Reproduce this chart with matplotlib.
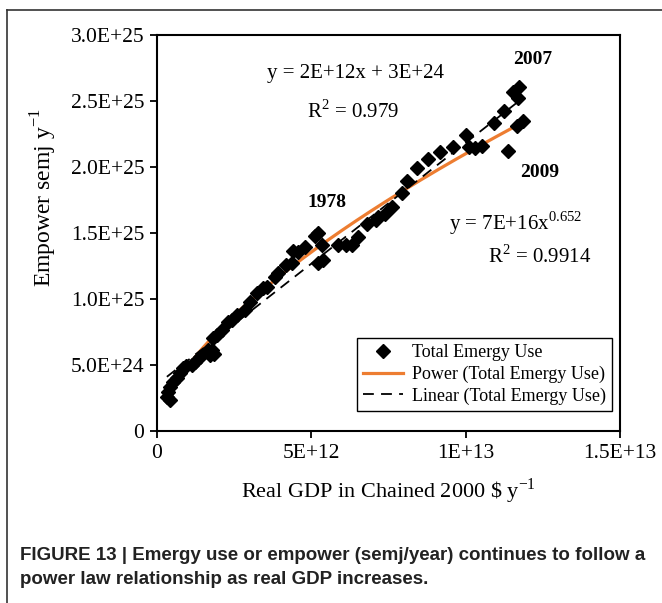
import numpy as np
import matplotlib.pyplot as plt
from matplotlib.lines import Line2D

plt.rcParams['font.family'] = ['Liberation Serif', 'DejaVu Serif']
plt.rcParams['mathtext.fontset'] = 'custom'
plt.rcParams['mathtext.rm'] = 'Liberation Serif'

# real GDP (1E+12 chained 2000 $ per year) and empower (1E+24 semj per year)
gdp = [0.32, 0.42, 0.36, 0.42, 0.52, 0.65, 0.75, 0.84, 0.94, 1.13, 1.23, 1.39,
       1.65, 1.78, 1.72, 1.85, 1.81, 1.94, 2.11, 2.30, 2.43, 2.59, 2.85, 3.01,
       3.24, 3.43, 3.56, 3.82, 3.92, 4.18, 4.37, 4.41, 4.57, 4.80, 5.12, 5.22,
       5.35, 5.22, 5.38, 5.86, 6.12, 6.32, 6.51, 6.80, 7.10, 7.16, 7.39, 7.61,
       7.94, 8.10, 8.42, 8.78, 9.17, 9.59, 10.01, 10.11, 10.30, 10.53, 10.92,
       11.24, 11.37, 11.66, 11.86, 11.53, 11.70, 11.73]
empower = [2.58, 2.35, 2.95, 3.33, 3.71, 4.02, 4.39, 4.77, 4.92, 5.00, 5.23, 5.60,
           6.14, 6.14, 5.76, 5.83, 7.05, 7.27, 7.65, 8.26, 8.41, 8.79, 9.17, 9.77,
           10.45, 10.83, 10.91, 11.67, 11.97, 12.58, 12.73, 13.64, 13.56, 13.94, 14.77, 15.00,
           14.09, 12.73, 12.95, 14.09, 14.09, 14.09, 14.70, 15.68, 15.98, 16.21, 16.44, 16.97,
           18.03, 18.94, 19.92, 20.61, 21.14, 21.52, 22.42, 21.52, 21.44, 21.59, 23.33,
           24.24, 21.21, 23.11, 23.48, 25.68, 25.23, 26.06]

x_ticks = [0, 5e12, 1e13, 1.5e13]
x_ticklabels = ['0', '5E+12', '1E+13', '1.5E+13']
y_ticks = [0, 5e24, 1e25, 1.5e25, 2e25, 2.5e25, 3e25]
y_ticklabels = ['0', '5.0E+24', '1.0E+25', '1.5E+25', '2.0E+25', '2.5E+25', '3.0E+25']

x = np.array(gdp) * 1e12
y = np.array(empower) * 1e24

# trendlines as Excel does them
b, log_a = np.polyfit(np.log(x), np.log(y), 1)
slope, icpt = np.polyfit(x, y, 1)
xs = np.linspace(x.min(), x.max(), 200)

fig = plt.figure(figsize=(6.62, 6.03), dpi=100)
ax = fig.add_axes([157/662, 1-431/603, 463/662, 396/603])

ax.plot(xs, np.exp(log_a) * xs**b, color='#ED7D31', lw=2.3, zorder=2,
        label='Power (Total Emergy Use)')
ax.plot(xs, slope*xs + icpt, color='black', lw=1.3, ls=(0, (6, 4)), zorder=2,
        label='Linear (Total Emergy Use)')
ax.plot(x, y, 'D', color='black', ms=7.5, zorder=3, label='Total Emergy Use')

ax.set_xlim(0, 1.5e13)
ax.set_ylim(0, 3e25)
ax.set_xticks(x_ticks)
ax.set_xticklabels(x_ticklabels)
ax.set_yticks(y_ticks)
ax.set_yticklabels(y_ticklabels)
ax.tick_params(labelsize=15.5, length=5, width=1.3, direction='out', pad=4)
for s in ax.spines.values():
    s.set_linewidth(1.5)

ax.set_xlabel(r'Real GDP in Chained 2000 \$ y$^{\mathregular{-1}}$', fontsize=16, labelpad=10)
ax.set_ylabel(r'Empower semj y$^{\mathregular{-1}}$', fontsize=17)
ax.yaxis.set_label_coords(-0.212, 0.59)

ax.text(0.428, 0.902, 'y = 2E+12x + 3E+24', transform=ax.transAxes, fontsize=15, ha='center', va='center')
ax.text(0.424, 0.808, r'R$^{\mathregular{2}}$ = 0.979', transform=ax.transAxes, fontsize=15, ha='center', va='center')
ax.text(0.775, 0.525, r'y = 7E+16x$^{\mathregular{0.652}}$', transform=ax.transAxes, fontsize=15, ha='center', va='center')
ax.text(0.826, 0.44, r'R$^{\mathregular{2}}$ = 0.9914', transform=ax.transAxes, fontsize=15, ha='center', va='center')
ax.text(0.367, 0.577, '1978', transform=ax.transAxes, fontsize=14, fontweight='bold', ha='center', va='center')
ax.text(0.812, 0.937, '2007', transform=ax.transAxes, fontsize=14, fontweight='bold', ha='center', va='center')
ax.text(0.827, 0.654, '2009', transform=ax.transAxes, fontsize=14, fontweight='bold', ha='center', va='center')

h, l = ax.get_legend_handles_labels()
leg = ax.legend([h[2], h[0], h[1]], [l[2], l[0], l[1]], loc='lower right',
                bbox_to_anchor=(0.983, 0.05), borderaxespad=0, fontsize=13,
                fancybox=False, framealpha=1, edgecolor='black', handlelength=2.2,
                labelspacing=0.25, borderpad=0.35, handletextpad=0.5)
leg.get_frame().set_linewidth(1.0)

# outer frame of the figure panel
fig.add_artist(Line2D([7/662, 7/662], [0, 1-10/603], transform=fig.transFigure, color='#333333', lw=1.2))
fig.add_artist(Line2D([7/662, 1], [1-10/603, 1-10/603], transform=fig.transFigure, color='#333333', lw=1.2))

fig.text(20/662, 1-555/603, 'FIGURE 13 | Emergy use or empower (semj/year) continues to follow a',
         family=['Liberation Sans'], fontsize=13.5, fontweight='bold', color='#222222', va='center')
fig.text(20/662, 1-579/603, 'power law relationship as real GDP increases.',
         family=['Liberation Sans'], fontsize=13.5, fontweight='bold', color='#222222', va='center')

fig.savefig('out.png', dpi=100)
